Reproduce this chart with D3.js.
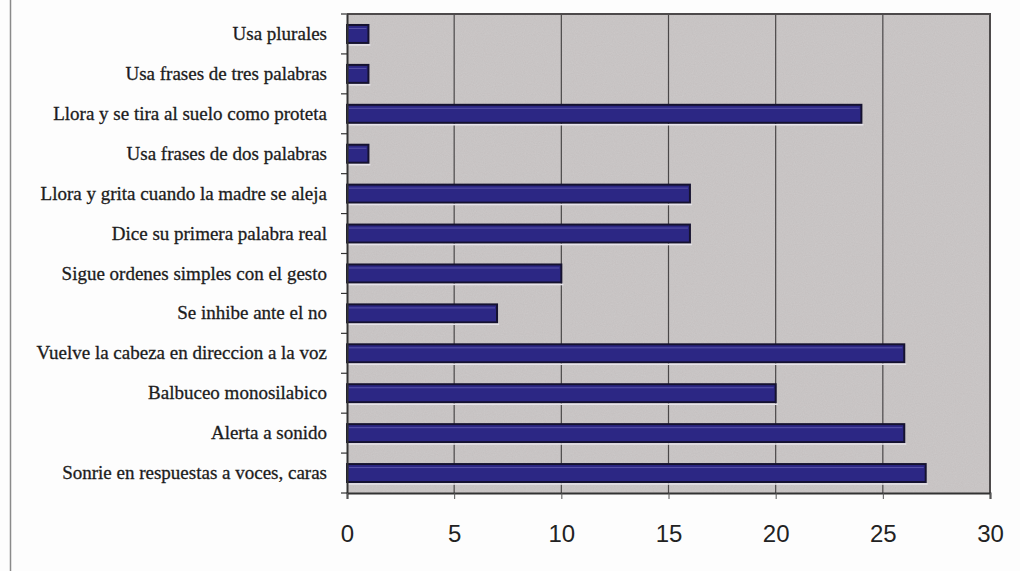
<!DOCTYPE html>
<html>
<head>
<meta charset="utf-8">
<script src="https://cdn.jsdelivr.net/npm/d3@7"></script>
<style>
  html, body { margin: 0; padding: 0; background: #fdfdfd; }
  svg { display: block; }
  .ylab { font-family: "Liberation Serif", Tinos, "Times New Roman", Times, "Noto Serif", "DejaVu Serif", serif; }
  .xlab { font-family: "Liberation Sans", Arial, sans-serif; }
</style>
</head>
<body>
<svg id="chart" width="1020" height="571"></svg>
<script>
// Milestones, listed top to bottom
const categories = [
  "Usa plurales",
  "Usa frases de tres palabras",
  "Llora y se tira al suelo como proteta",
  "Usa frases de dos palabras",
  "Llora y grita cuando la madre se aleja",
  "Dice su primera palabra real",
  "Sigue ordenes simples con el gesto",
  "Se inhibe ante el no",
  "Vuelve la cabeza en direccion a la voz",
  "Balbuceo monosilabico",
  "Alerta a sonido",
  "Sonrie en respuestas a voces, caras"
];
const values = [1, 1, 24, 1, 16, 16, 10, 7, 26, 20, 26, 27];
const xTicks = [0, 5, 10, 15, 20, 25, 30];

const svg = d3.select("#chart");
const plot = { left: 347, right: 990, top: 14, bottom: 493 };

// Outer frame line on the left edge
svg.append("line")
  .attr("x1", 10.5).attr("x2", 10.5)
  .attr("y1", 0).attr("y2", 571)
  .attr("stroke", "#8a8a8a").attr("stroke-width", 1.5);

const x = d3.scaleLinear().domain([0, 30]).range([plot.left, plot.right]);
const y = d3.scaleBand().domain(categories).range([plot.top, plot.bottom])
  .paddingInner(0.55).paddingOuter(0.275);

// Grainy grey plot background
const defs = svg.append("defs");
const f = defs.append("filter").attr("id", "grain")
  .attr("x", 0).attr("y", 0).attr("width", 1).attr("height", 1);
f.append("feTurbulence").attr("type", "fractalNoise")
  .attr("baseFrequency", 0.9).attr("numOctaves", 2).attr("seed", 3).attr("result", "n");
f.append("feColorMatrix").attr("in", "n").attr("type", "matrix")
  .attr("values", "0 0 0 0 0.64  0 0 0 0 0.62  0 0 0 0 0.62  0 0 0 0.6 0")
  .attr("result", "c");
f.append("feComposite").attr("in", "c").attr("in2", "SourceGraphic").attr("operator", "in").attr("result", "m");
f.append("feMerge").selectAll("feMergeNode").data(["SourceGraphic", "m"]).join("feMergeNode").attr("in", d => d);

svg.append("rect")
  .attr("x", plot.left).attr("y", plot.top)
  .attr("width", plot.right - plot.left).attr("height", plot.bottom - plot.top)
  .attr("fill", "#c4c0c0")
  .attr("filter", "url(#grain)");

// Vertical gridlines
svg.append("g").selectAll("line")
  .data(xTicks.filter(t => t > 0 && t < 30))
  .join("line")
  .attr("x1", d => x(d)).attr("x2", d => x(d))
  .attr("y1", plot.top).attr("y2", plot.bottom)
  .attr("stroke", "#4a4748").attr("stroke-width", 1.2);

// Plot border (top and right)
svg.append("path")
  .attr("d", `M${plot.left},${plot.top}H${plot.right}V${plot.bottom}`)
  .attr("fill", "none").attr("stroke", "#4d4a4b").attr("stroke-width", 2);

// Bars
const bars = svg.append("g").selectAll("g").data(values).join("g");
bars.append("rect")
  .attr("x", x(0))
  .attr("y", (d, i) => y(categories[i]))
  .attr("width", d => x(d) - x(0))
  .attr("height", y.bandwidth())
  .attr("fill", "#2c2784")
  .attr("stroke", "#151230").attr("stroke-width", 2);
bars.append("line")
  .attr("x1", x(0) + 2).attr("x2", d => x(d) - 2)
  .attr("y1", (d, i) => y(categories[i]) + 3.5)
  .attr("y2", (d, i) => y(categories[i]) + 3.5)
  .attr("stroke", "#6a64b8").attr("stroke-width", 1).attr("opacity", 0.7);
bars.append("line")
  .attr("x1", x(0)).attr("x2", d => x(d) + 2)
  .attr("y1", (d, i) => y(categories[i]) + y.bandwidth() + 2)
  .attr("y2", (d, i) => y(categories[i]) + y.bandwidth() + 2)
  .attr("stroke", "#e6e3ea").attr("stroke-width", 1.5);

// Y axis with category labels
const yAxis = svg.append("g")
  .attr("transform", `translate(${plot.left},0)`)
  .call(d3.axisLeft(y).tickSize(0).tickPadding(20));
yAxis.attr("font-family", null).attr("font-size", null);
yAxis.select(".domain").attr("stroke", "#333").attr("stroke-width", 2);
yAxis.selectAll("text")
  .attr("class", "ylab")
  .style("font-size", "19px")
  .attr("fill", "#1c1c1c")
  .attr("stroke", "#1c1c1c").attr("stroke-width", 0.3);
// Small ticks between categories
svg.append("g").selectAll("line")
  .data(d3.range(categories.length + 1))
  .join("line")
  .attr("x1", plot.left - 6).attr("x2", plot.left)
  .attr("y1", i => plot.top + i * y.step())
  .attr("y2", i => plot.top + i * y.step())
  .attr("stroke", "#333").attr("stroke-width", 1.2);

// X axis
const xAxis = svg.append("g")
  .attr("transform", `translate(0,${plot.bottom})`)
  .call(d3.axisBottom(x).tickValues(xTicks).tickSize(6).tickPadding(26));
xAxis.attr("font-family", null).attr("font-size", null);
xAxis.select(".domain").attr("stroke", "#333").attr("stroke-width", 2);
xAxis.selectAll(".tick line").attr("stroke", "#555");
xAxis.selectAll("text")
  .attr("class", "xlab")
  .style("font-size", "24px")
  .attr("fill", "#222");
</script>
</body>
</html>
